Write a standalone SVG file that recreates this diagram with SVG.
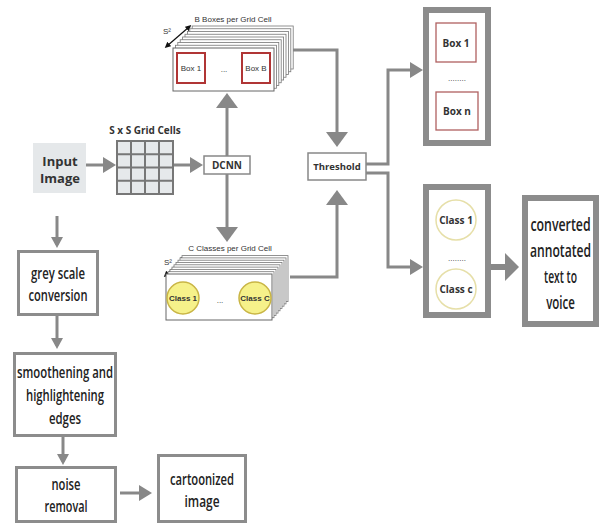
<svg xmlns="http://www.w3.org/2000/svg" width="604" height="529" viewBox="0 0 604 529">
<style>
.ln{fill:none;stroke:#888;stroke-width:3}
.thk{fill:none;stroke:#888;stroke-width:6}
.box{fill:#fff;stroke:#8c8c8c;stroke-width:3}
.pan{fill:#fff;stroke:#8c8c8c;stroke-width:6}
.cond{font-family:"Open Sans","Liberation Sans",sans-serif;font-size:16px;font-weight:600;fill:#222;text-anchor:middle}
.big{font-family:"Open Sans","Liberation Sans",sans-serif;font-size:18px;font-weight:600;fill:#222;text-anchor:middle}
.bold{font-family:"Open Sans","Liberation Sans",sans-serif;font-weight:bold;fill:#333;text-anchor:middle}
.sm{font-family:"Liberation Sans",Arial,sans-serif;font-size:8px;fill:#333;text-anchor:middle}
.lay{fill:#fff;stroke:#777;stroke-width:0.8}
.redb{fill:#fff;stroke:#b03535;stroke-width:2}
.redp{fill:#fff;stroke:#b06060;stroke-width:1.3}
.cy{fill:#f6f18a;stroke:#c9b545;stroke-width:1.5}
.cw{fill:#fff;stroke:#e6dfa8;stroke-width:1.5}
</style>
<defs>
<marker id="ahB" markerUnits="userSpaceOnUse" markerWidth="16" markerHeight="22" refX="11" refY="11" orient="auto"><path d="M0,0 L15,11 L0,22 z" fill="#888"/></marker>
<marker id="ahM" markerUnits="userSpaceOnUse" markerWidth="14" markerHeight="16" refX="10" refY="8" orient="auto"><path d="M0,0 L13,8 L0,16 z" fill="#888"/></marker>
<marker id="ahS" markerUnits="userSpaceOnUse" markerWidth="12" markerHeight="12" refX="8" refY="6" orient="auto"><path d="M0,0 L11,6 L0,12 z" fill="#888"/></marker>
<marker id="ahT" markerUnits="userSpaceOnUse" markerWidth="16" markerHeight="28" refX="6" refY="14" orient="auto"><path d="M0,0 L14,14 L0,28 z" fill="#888"/></marker>
<marker id="dA" markerUnits="userSpaceOnUse" markerWidth="6" markerHeight="6" refX="3" refY="3" orient="auto-start-reverse"><path d="M0,0 L6,3 L0,6 z" fill="#111"/></marker>
</defs>

<g id="connectors">
<path class="ln" d="M86,165 H113" marker-end="url(#ahM)"/>
<path class="ln" d="M173,165 H200" marker-end="url(#ahM)"/>
<path class="ln" d="M227,156 V97" marker-end="url(#ahB)"/>
<path class="ln" d="M227,174 V238" marker-end="url(#ahB)"/>
<path class="ln" d="M293,50 H337 V143" marker-end="url(#ahB)"/>
<path class="ln" d="M290,277 H337 V194" marker-end="url(#ahB)"/>
<path class="ln" d="M366,164 H388 V70 H420" marker-end="url(#ahM)"/>
<path class="ln" d="M366,173 H388 V267 H420" marker-end="url(#ahM)"/>
<path class="thk" d="M491,267 H511" marker-end="url(#ahT)"/>
<path class="ln" d="M57,216 V245" marker-end="url(#ahS)"/>
<path class="ln" d="M57,316 V346" marker-end="url(#ahS)"/>
<path class="ln" d="M63,437 V462" marker-end="url(#ahS)"/>
<path class="ln" d="M120,493 H149" marker-end="url(#ahM)"/>
</g>

<g id="input-image">
<rect x="33" y="143" width="53" height="50" fill="#e5e8ea"/>
<text class="bold" x="60" y="166" font-size="13">Input</text>
<text class="bold" x="60" y="183" font-size="13">Image</text>
</g>

<g id="grid">
<text class="bold" x="145" y="134" font-size="10">S x S Grid Cells</text>
<rect x="117" y="141" width="56" height="53" fill="#e6e9eb" stroke="#777" stroke-width="2"/>
<path d="M131,141 V194 M145,141 V194 M159,141 V194 M117,154.25 H173 M117,167.5 H173 M117,180.75 H173" stroke="#777" stroke-width="2" fill="none"/>
</g>

<g id="dcnn">
<rect x="204" y="156" width="46" height="18" fill="#fff" stroke="#888" stroke-width="1.5"/>
<text class="bold" x="227" y="169" font-size="10">DCNN</text>
</g>

<g id="b-boxes">
<text class="sm" x="233" y="22">B Boxes per Grid Cell</text>
<text class="sm" x="167" y="34">S²</text>
<path d="M167,46 L189,27" stroke="#111" stroke-width="1.2" marker-start="url(#dA)" marker-end="url(#dA)"/>
<rect class="lay" x="192.2" y="26" width="101" height="43"/>
<rect class="lay" x="189.8" y="28.75" width="101" height="43"/>
<rect class="lay" x="187.4" y="31.5" width="101" height="43"/>
<rect class="lay" x="185" y="34.25" width="101" height="43"/>
<rect class="lay" x="182.6" y="37" width="101" height="43"/>
<rect class="lay" x="180.2" y="39.75" width="101" height="43"/>
<rect class="lay" x="177.8" y="42.5" width="101" height="43"/>
<rect class="lay" x="175.4" y="45.25" width="101" height="43"/>
<rect x="173" y="48" width="101" height="43" fill="#fff" stroke="#666" stroke-width="1"/>
<rect class="redb" x="177" y="53" width="28" height="30"/>
<rect class="redb" x="242" y="53" width="28" height="30"/>
<text class="sm" x="191" y="71">Box 1</text>
<text class="sm" x="256" y="71">Box B</text>
<text class="sm" x="224" y="72" fill="#999">...</text>
</g>

<g id="c-classes">
<text class="sm" x="230" y="251">C Classes per Grid Cell</text>
<text class="sm" x="168" y="265">S²</text>
<path d="M166,275 L184,258" stroke="#111" stroke-width="1.2" marker-start="url(#dA)" marker-end="url(#dA)"/>
<rect class="lay" x="182" y="255.6" width="106" height="46"/>
<rect class="lay" x="180" y="257.9" width="106" height="46"/>
<rect class="lay" x="178" y="260.2" width="106" height="46"/>
<rect class="lay" x="176" y="262.5" width="106" height="46"/>
<rect class="lay" x="174" y="264.8" width="106" height="46"/>
<rect class="lay" x="172" y="267.1" width="106" height="46"/>
<rect class="lay" x="170" y="269.4" width="106" height="46"/>
<rect class="lay" x="168" y="271.7" width="106" height="46"/>
<rect x="166" y="274" width="106" height="46" fill="#fff" stroke="#666" stroke-width="1"/>
<circle class="cy" cx="183" cy="298" r="16"/>
<circle class="cy" cx="255" cy="298" r="16"/>
<text class="sm" x="183" y="301" font-weight="bold">Class 1</text>
<text class="sm" x="255" y="301" font-weight="bold">Class C</text>
<text class="sm" x="220" y="303" fill="#999">...</text>
</g>

<g id="threshold">
<rect x="308" y="153" width="58" height="27" fill="#fff" stroke="#888" stroke-width="1.5"/>
<text class="bold" x="337" y="170" font-size="9.5">Threshold</text>
</g>

<g id="boxes-panel">
<rect class="pan" x="426" y="10" width="62" height="133"/>
<rect class="redp" x="436" y="23" width="40" height="39"/>
<text class="bold" x="456" y="47" font-size="10">Box 1</text>
<text class="sm" x="457" y="81" fill="#555">........</text>
<rect class="redp" x="436" y="92" width="42" height="38"/>
<text class="bold" x="457" y="115" font-size="10">Box n</text>
</g>

<g id="classes-panel">
<rect class="pan" x="426" y="187" width="62" height="128"/>
<circle class="cw" cx="456" cy="220" r="20"/>
<text class="bold" x="456" y="224" font-size="10">Class 1</text>
<text class="sm" x="457" y="261" fill="#555">........</text>
<circle class="cw" cx="456" cy="289" r="20"/>
<text class="bold" x="456" y="293" font-size="10">Class c</text>
</g>

<g id="converted">
<rect class="pan" x="525" y="198" width="71" height="126"/>
<text class="big" transform="translate(560.5,231) scale(0.7,1)" x="0" y="0" textLength="86" lengthAdjust="spacingAndGlyphs">converted</text>
<text class="big" transform="translate(560.5,257) scale(0.7,1)" x="0" y="0" textLength="87" lengthAdjust="spacingAndGlyphs">annotated</text>
<text class="big" transform="translate(560.5,283) scale(0.7,1)" x="0" y="0" textLength="47" lengthAdjust="spacingAndGlyphs">text to</text>
<text class="big" transform="translate(560.5,309) scale(0.7,1)" x="0" y="0" textLength="41" lengthAdjust="spacingAndGlyphs">voice</text>
</g>

<g id="grey-scale">
<rect class="box" x="18.5" y="251.5" width="79" height="63"/>
<text class="cond" x="58" y="279" textLength="54" lengthAdjust="spacingAndGlyphs">grey scale</text>
<text class="cond" x="58" y="301" textLength="59" lengthAdjust="spacingAndGlyphs">conversion</text>
</g>

<g id="smoothening">
<rect class="box" x="14.5" y="353.5" width="101" height="82"/>
<text class="cond" x="65" y="378" textLength="96" lengthAdjust="spacingAndGlyphs">smoothening and</text>
<text class="cond" x="65" y="401" textLength="78" lengthAdjust="spacingAndGlyphs">highlightening</text>
<text class="cond" x="65" y="424" textLength="32" lengthAdjust="spacingAndGlyphs">edges</text>
</g>

<g id="noise">
<rect class="box" x="16.5" y="467.5" width="99" height="54"/>
<text class="cond" x="66" y="490" textLength="29" lengthAdjust="spacingAndGlyphs">noise</text>
<text class="cond" x="66" y="512" textLength="43" lengthAdjust="spacingAndGlyphs">removal</text>
</g>

<g id="cartoonized">
<rect class="box" x="158.5" y="455.5" width="87" height="66"/>
<text class="cond" x="202" y="485" textLength="64" lengthAdjust="spacingAndGlyphs">cartoonized</text>
<text class="cond" x="202" y="507" textLength="35" lengthAdjust="spacingAndGlyphs">image</text>
</g>
</svg>
